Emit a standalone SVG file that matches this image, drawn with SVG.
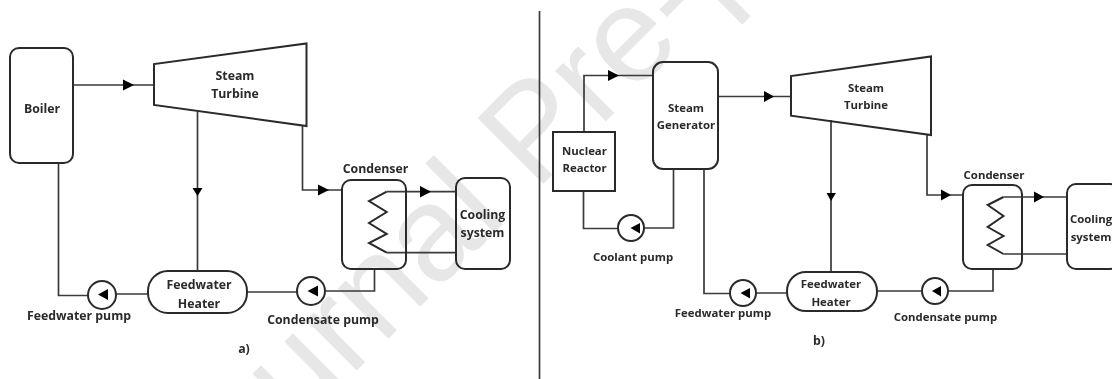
<svg xmlns="http://www.w3.org/2000/svg" width="1112" height="379" viewBox="0 0 1112 379">
<defs>
<style>
.wm{font-family:"Liberation Sans",Arial,sans-serif;font-size:135px;fill:#e7e7e7}
.n{fill:none;stroke:#2a2a2a;stroke-width:2}
.c{fill:none;stroke:#3a3a3a;stroke-width:1.7}
.a{fill:#000}
text.t{font-family:"Open Sans","Noto Sans",sans-serif;font-size:12.3px;font-weight:700;fill:#2a2a2a;text-anchor:middle}
text.s{font-size:11.4px}
</style>
<filter id="soft" x="-2%" y="-2%" width="104%" height="104%"><feGaussianBlur stdDeviation="0.4"/></filter>
</defs>
<rect width="1112" height="379" fill="#fff"/>
<text class="wm" transform="translate(196 531) rotate(-45)">Journal Pre-proof</text>
<g filter="url(#soft)">
<g id="connectors">
<path class="c" d="M539.500 11V379"/>
<path class="c" d="M73 85H154M197.500 112V271M58.500 163V295.500H88M116 294H148M247 292H297M325 291H374.500V269M302.500 125V190H342M386.700 191.700H456M386.700 252.700H456"/>
<path class="c" d="M584 132V75.500H653M718 96.500H791M831 120V272M704 169V293.500H730M756 293H787M583.500 191V228.500H618M644 228H673.500V169M877 291H922M948 291H993V269M927 135V195H963M1003.500 197H1067M1003.500 254H1067"/>
<path class="a" d="M123 79.500L134 85L123 90.500ZM192.500 188H202.500L197.500 196ZM108 289V300L98 294.500ZM318 285.500V296.500L307.500 291ZM318 184.500L329 190L318 195.500ZM420 186L431 191.700L420 197.500Z"/>
<path class="a" d="M608 70L619 75.500L608 81ZM764 91L774 96.500L764 102ZM826.500 193H836L831 201ZM750 288V298.500L740.500 293ZM640 223V233.500L630.500 228ZM941 286V296.500L932 291ZM941 189.500L951 195L941 200.500ZM1034 191.500L1044 197L1034 202.500Z"/>
</g>
<g id="boiler"><rect class="n" x="10" y="48" width="63" height="115" rx="9"/><text class="t" x="42" y="113">Boiler</text></g>
<g id="turbine-a"><path class="n" d="M154 64V105L306.500 126V43.500Z"/><text class="t" x="235" y="80">Steam</text><text class="t" x="235" y="98">Turbine</text></g>
<g id="heater-a"><rect class="n" x="148" y="271" width="99" height="42" rx="20"/><text class="t" x="199" y="289">Feedwater</text><text class="t" x="199" y="308">Heater</text></g>
<g id="feedpump-a"><circle class="n" cx="102" cy="295" r="14"/><text class="t" x="79" y="320">Feedwater pump</text></g>
<g id="condpump-a"><circle class="n" cx="311" cy="291" r="14"/><text class="t" x="323" y="324">Condensate pump</text></g>
<g id="condenser-a"><rect class="n" x="342" y="180" width="64" height="89" rx="9"/><path class="n" d="M386.700 191.700L369 201L386.700 212L369 223L386.700 234L369 243L386.700 252.700"/><text class="t" x="375.500" y="172.500">Condenser</text></g>
<g id="cooling-a"><rect class="n" x="456" y="178" width="54" height="91" rx="9"/><text class="t" x="482.500" y="219">Cooling</text><text class="t" x="482.500" y="237">system</text></g>
<text class="t" x="244" y="353">a)</text>
<g id="reactor"><rect class="n" x="553" y="132" width="62" height="59"/><text class="t s" x="584.500" y="155">Nuclear</text><text class="t s" x="584.500" y="172">Reactor</text></g>
<g id="generator"><rect class="n" x="653" y="62" width="65" height="107" rx="10"/><text class="t s" x="686" y="111.500">Steam</text><text class="t s" x="686" y="129">Generator</text></g>
<g id="turbine-b"><path class="n" d="M791 76V115.700L931 135V56.500Z"/><text class="t s" x="866" y="91.700">Steam</text><text class="t s" x="866" y="109">Turbine</text></g>
<g id="heater-b"><rect class="n" x="787" y="272" width="90" height="39" rx="19"/><text class="t s" x="831" y="288">Feedwater</text><text class="t s" x="831" y="306">Heater</text></g>
<g id="coolpump"><circle class="n" cx="631" cy="228" r="13"/><text class="t s" x="633" y="260.500">Coolant pump</text></g>
<g id="feedpump-b"><circle class="n" cx="743" cy="293" r="13"/><text class="t s" x="723" y="317">Feedwater pump</text></g>
<g id="condpump-b"><circle class="n" cx="935" cy="291" r="13"/><text class="t s" x="945.500" y="320.500">Condensate pump</text></g>
<g id="condenser-b"><rect class="n" x="963" y="185" width="59" height="84" rx="9"/><path class="n" d="M1003.500 197L987.700 205L1003.500 216L987.700 227L1003.500 236L987.700 245L1003.500 254"/><text class="t s" x="994" y="179">Condenser</text></g>
<g id="cooling-b"><rect class="n" x="1067" y="184" width="52" height="85" rx="9"/><text class="t s" x="1091" y="223">Cooling</text><text class="t s" x="1091" y="240.700">system</text></g>
<text class="t" x="819" y="345">b)</text>
</g>
</svg>
